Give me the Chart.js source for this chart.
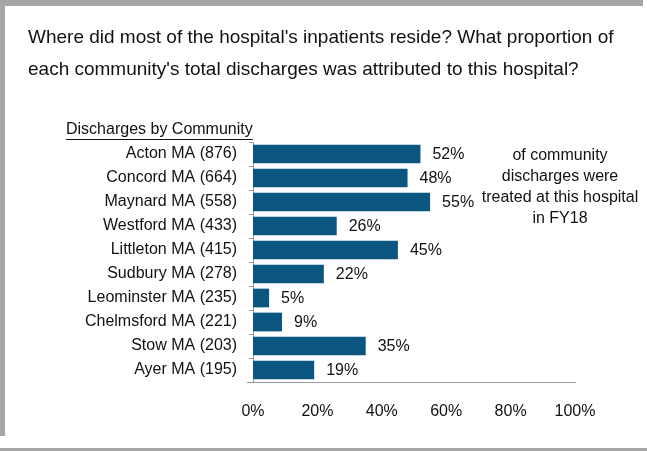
<!DOCTYPE html>
<html>
<head>
<meta charset="utf-8">
<script src="https://cdn.jsdelivr.net/npm/chart.js@4/dist/chart.umd.min.js"></script>
<style>
  body { margin: 0; background: #fff; }
  #caja { position: relative; width: 647px; height: 451px; }
</style>
</head>
<body>
<div id="caja"><canvas id="grafica"></canvas></div>
<script>
// datos del grafico
const comunidades = [
    "Acton MA (876)", "Concord MA (664)", "Maynard MA (558)", "Westford MA (433)",
    "Littleton MA (415)", "Sudbury MA (278)", "Leominster MA (235)",
    "Chelmsford MA (221)", "Stow MA (203)", "Ayer MA (195)"
];
const porcentajes = [52, 48, 55, 26, 45, 22, 5, 9, 35, 19];
const ticksX = [0, 20, 40, 60, 80, 100];

const tituloLineas = [
    "Where did most of the hospital's inpatients reside? What proportion of",
    "each community's total discharges was attributed to this hospital?"
];
const subtitulo = "Discharges by Community";
const notaLineas = ["of community", "discharges were", "treated at this hospital", "in FY18"];

const fuente = "'Liberation Sans', Arial, sans-serif";

// plugin para marco, titulo, etiquetas y nota
const textosExtra = {
    id: "textosExtra",
    beforeDraw(chart) {
        const ctx = chart.ctx;
        ctx.save();
        ctx.fillStyle = "#a6a6a8";
        ctx.fillRect(0, 0, 643, 6);
        ctx.fillRect(0, 0, 5, 436);
        ctx.fillRect(0, 448, 647, 3);
        ctx.restore();
    },
    afterDraw(chart) {
        const ctx = chart.ctx;
        const x = chart.scales.x;
        const y = chart.scales.y;
        ctx.save();
        ctx.fillStyle = "#111";
        ctx.textBaseline = "middle";

        ctx.font = "19px " + fuente;
        ctx.textAlign = "left";
        tituloLineas.forEach((t, i) => ctx.fillText(t, 28, 38 + i * 32));

        ctx.font = "16px " + fuente;
        ctx.fillText(subtitulo, 66, 130);
        const ancho = ctx.measureText(subtitulo).width;
        ctx.fillRect(66, 139, ancho, 1);

        // etiquetas de porcentaje
        porcentajes.forEach((v, i) => {
            ctx.fillText(v + "%", x.getPixelForValue(v) + 12, y.getPixelForValue(i) + 1);
        });

        // nota a la derecha
        ctx.textAlign = "center";
        notaLineas.forEach((t, i) => ctx.fillText(t, 560, 156 + i * 21));

        // eje x un poco mas largo que el area
        ctx.strokeStyle = "#9a9a9a";
        ctx.lineWidth = 1;
        ctx.beginPath();
        ctx.moveTo(247, Math.round(y.bottom) + 0.5);
        ctx.lineTo(576, Math.round(y.bottom) + 0.5);
        ctx.stroke();
        ctx.restore();
    }
};

document.addEventListener("DOMContentLoaded", function() {
    const ctx = document.getElementById("grafica").getContext("2d");
    new Chart(ctx, {
        type: "bar",
        data: {
            labels: comunidades,
            datasets: [{
                data: porcentajes,
                backgroundColor: "#0a5681",
                borderWidth: 0,
                barPercentage: 0.78,
                categoryPercentage: 1
            }]
        },
        options: {
            indexAxis: "y",
            responsive: true,
            maintainAspectRatio: false,
            animation: false,
            layout: { padding: { left: 0, right: 72, top: 142, bottom: 19 } },
            plugins: {
                legend: { display: false },
                tooltip: { enabled: false }
            },
            scales: {
                x: {
                    min: 0,
                    max: 100,
                    afterBuildTicks: (s) => { s.ticks = ticksX.map(v => ({ value: v })); },
                    afterFit: (s) => { s.height = 50; },
                    grid: { display: false },
                    border: { display: false },
                    ticks: {
                        padding: 12,
                        color: "#111",
                        font: { size: 16, family: fuente },
                        callback: (v) => v + "%"
                    }
                },
                y: {
                    afterFit: (s) => { s.width = 253; },
                    grid: {
                        drawOnChartArea: false,
                        drawTicks: true,
                        tickLength: 4,
                        color: "#9a9a9a",
                        offset: true
                    },
                    border: { display: true, color: "#9a9a9a" },
                    ticks: {
                        padding: 12,
                        color: "#111",
                        font: { size: 16, family: fuente }
                    }
                }
            }
        },
        plugins: [textosExtra]
    });
});
</script>
</body>
</html>
